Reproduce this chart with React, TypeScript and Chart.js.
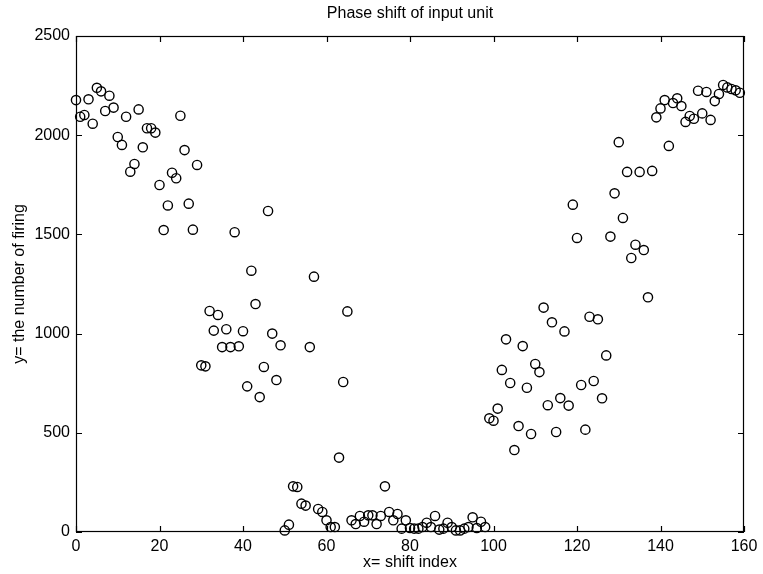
import React, { useEffect, useRef } from "react";
import { Chart, registerables } from "chart.js";

Chart.register(...registerables);

// Number of firings for each shift index (x = 0 .. 159), read in blocks of ten
const firing0to49: number[] = [
  2177, 2093, 2102, 2181, 2058, 2239, 2221, 2122, 2199, 2139,
  1991, 1951, 2093, 1816, 1855, 2130, 1939, 2035, 2035, 2013,
  1749, 1522, 1646, 1811, 1783, 2098, 1925, 1655, 1524, 1850,
  840, 835, 1114, 1015, 1094, 932, 1022, 932, 1511, 936,
  1012, 734, 1317, 1149, 680, 832, 1618, 1000, 766, 941,
];
const firing50to99: number[] = [
  8, 37, 230, 227, 143, 133, 932, 1287, 116, 101,
  59, 25, 25, 375, 756, 1112, 59, 40, 81, 52,
  84, 84, 40, 81, 230, 101, 59, 91, 17, 59,
  20, 17, 17, 25, 47, 25, 81, 12, 17, 47,
  25, 8, 8, 17, 25, 74, 20, 52, 25, 573,
];
const firing100to159: number[] = [
  561, 622, 817, 971, 751, 413, 534, 937, 727, 494,
  847, 806, 1131, 639, 1057, 504, 675, 1011, 637, 1650,
  1482, 741, 516, 1085, 761, 1072, 674, 890, 1489, 1707,
  1965, 1583, 1815, 1381, 1448, 1815, 1421, 1183, 1820, 2090,
  2135, 2177, 1946, 2162, 2186, 2147, 2067, 2097, 2083, 2224,
  2110, 2218, 2077, 2172, 2208, 2253, 2241, 2233, 2226, 2214,
];

const xTicks: number[] = [0, 20, 40, 60, 80, 100, 120, 140, 160];
const yTicks: number[] = [0, 500, 1000, 1500, 2000, 2500];

const chartTitle = "Phase shift of input unit";
const xTitle = "x= shift index";
const yTitle = "y= the number of firing";

const FONT = "'Liberation Sans', Arial, Helvetica, sans-serif";

const framePlugin = {
  id: "matlabFrame",
  afterDraw(chart: any) {
    const { ctx, chartArea: a, scales } = chart;
    ctx.save();
    ctx.strokeStyle = "#000";
    ctx.lineWidth = 1.2;
    ctx.strokeRect(a.left + 0.5, a.top + 0.5, a.right - a.left - 1, a.bottom - a.top - 1);
    const tl = 6;
    ctx.beginPath();
    for (const v of xTicks) {
      const px = Math.round(scales.x.getPixelForValue(v)) + 0.5;
      ctx.moveTo(px, a.bottom);
      ctx.lineTo(px, a.bottom - tl);
      ctx.moveTo(px, a.top);
      ctx.lineTo(px, a.top + tl);
    }
    for (const v of yTicks) {
      const py = Math.round(scales.y.getPixelForValue(v)) + 0.5;
      ctx.moveTo(a.left, py);
      ctx.lineTo(a.left + tl, py);
      ctx.moveTo(a.right, py);
      ctx.lineTo(a.right - tl, py);
    }
    ctx.stroke();

    ctx.fillStyle = "#000";
    ctx.textAlign = "center";
    ctx.textBaseline = "middle";
    const cx = (a.left + a.right) / 2;
    ctx.font = `16px ${FONT}`;
    ctx.fillText(chartTitle, cx, 14);
    ctx.fillText(xTitle, cx, 563);
    ctx.translate(20, (a.top + a.bottom) / 2);
    ctx.rotate(-Math.PI / 2);
    ctx.fillText(yTitle, 0, 0);
    ctx.restore();
  },
};

export default function App() {
  const canvasRef = useRef<HTMLCanvasElement | null>(null);

  useEffect(() => {
    document.body.style.margin = "0";
    const canvas = canvasRef.current;
    if (!canvas) return;
    const allFiring = [...firing0to49, ...firing50to99, ...firing100to159];
    const points = allFiring.map((y, i) => ({ x: i, y }));

    const chart = new Chart(canvas, {
      type: "scatter",
      data: {
        datasets: [
          {
            data: points,
            clip: false,
            pointStyle: "circle",
            pointRadius: 4.6,
            pointHoverRadius: 4.6,
            pointBorderWidth: 1.4,
            borderColor: "#000",
            backgroundColor: "rgba(0,0,0,0)",
          },
        ],
      },
      options: {
        animation: false,
        responsive: true,
        maintainAspectRatio: false,
        layout: { padding: { top: 36, right: 19, left: 0, bottom: 0 } },
        plugins: {
          legend: { display: false },
          title: { display: false },
          tooltip: { enabled: false },
        },
        scales: {
          x: {
            type: "linear",
            min: 0,
            max: 160,
            afterFit: (s: any) => {
              s.height = 42;
            },
            afterBuildTicks: (s: any) => {
              s.ticks = xTicks.map((v) => ({ value: v }));
            },
            grid: { display: false, drawTicks: false },
            border: { display: false },
            ticks: {
              padding: 5,
              color: "#000",
              font: { family: FONT, size: 16 },
              maxRotation: 0,
              autoSkip: false,
              callback: (v: any) => String(v),
            },
          },
          y: {
            type: "linear",
            min: 0,
            max: 2500,
            afterFit: (s: any) => {
              s.width = 76;
            },
            afterBuildTicks: (s: any) => {
              s.ticks = yTicks.map((v) => ({ value: v }));
            },
            grid: { display: false, drawTicks: false },
            border: { display: false },
            ticks: {
              padding: 6,
              color: "#000",
              font: { family: FONT, size: 16 },
              autoSkip: false,
              callback: (v: any) => String(v),
            },
          },
        },
      },
      plugins: [framePlugin],
    });
    return () => chart.destroy();
  }, []);

  return (
    <div style={{ position: "absolute", left: 0, top: 0, width: 763, height: 574, background: "#fff" }}>
      <canvas ref={canvasRef} />
    </div>
  );
}
